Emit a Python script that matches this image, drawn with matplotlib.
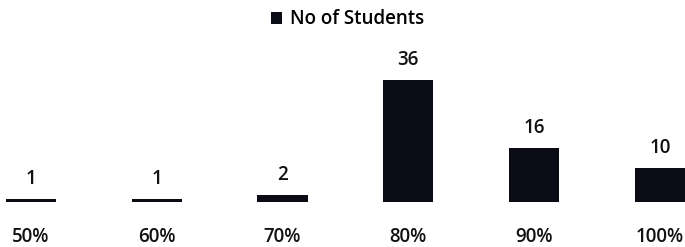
import matplotlib.pyplot as plt

plt.rcParams["font.family"] = ["Open Sans", "DejaVu Sans"]

# Data
categories = ["50%", "60%", "70%", "80%", "90%", "100%"]
students = [1, 1, 2, 36, 16, 10]

fig = plt.figure(figsize=(6.85, 2.47), dpi=100)
ax = fig.add_axes([0, 45 / 247, 1, 172 / 247])

x = range(len(categories))
bars = ax.bar(x, students, width=0.4, color="#0b0b16", label="No of Students")
ax.bar_label(bars, padding=7, fontsize=13.5, fontweight="semibold", color="#111111")

ax.set_xlim(-0.246, 5.2)
ax.set_ylim(0, 50.6)
ax.set_xticks(list(x))
ax.set_xticklabels(categories, fontsize=13.5, fontweight="semibold", color="#111111")
ax.tick_params(axis="x", length=0, pad=18)
ax.set_yticks([])
for s in ax.spines.values():
    s.set_visible(False)

fig.legend(
    loc="upper center",
    bbox_to_anchor=(0.507, 1.03),
    frameon=False,
    prop={"size": 13.5, "weight": "semibold"},
    handlelength=0.6,
    handleheight=0.6,
    handletextpad=0.4,
)

fig.savefig("out.png", dpi=100)
